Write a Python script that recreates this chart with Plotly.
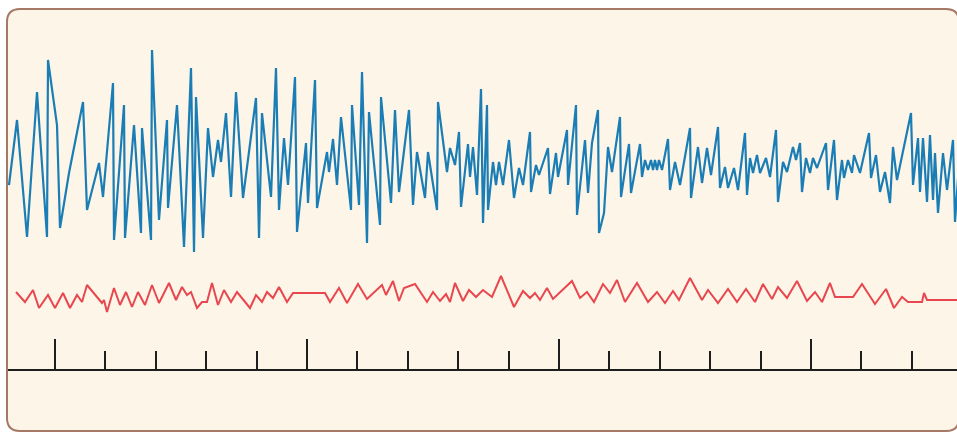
import plotly.graph_objects as go

# ---------------- data ----------------
blue_t = [9, 17, 27, 37, 47, 48, 57, 60, 69, 83, 87, 99, 103, 113, 114, 124, 125, 134, 141, 142,
          151, 152, 159, 167, 168, 177, 184, 191, 194, 196, 203, 208, 213, 218, 221, 226, 231, 236, 243, 256,
          259, 262, 271, 276, 279, 284, 288, 295, 297, 306, 308, 315, 317, 327, 329, 333, 337, 341, 351, 352,
          359, 362, 367, 369, 380, 381, 391, 395, 399, 409, 413, 417, 425, 428, 437, 438, 447, 450, 455, 459,
          461, 468, 470, 473, 477, 481, 483, 487, 488, 493, 496, 499, 503, 509, 514, 519, 523, 530, 531, 536,
          539, 548, 550, 556, 558, 567, 568, 576, 577, 585, 588, 592, 598, 599, 604, 608, 612, 620, 621, 629,
          631, 640, 642, 645, 648, 651, 653, 655, 657, 659, 662, 668, 670, 675, 680, 690, 691, 698, 702, 707,
          711, 718, 720, 725, 728, 734, 738, 745, 747, 750, 753, 757, 760, 766, 770, 776, 778, 783, 787, 793,
          796, 800, 802, 806, 810, 813, 817, 826, 828, 834, 837, 842, 844, 848, 852, 854, 860, 869, 871, 876,
          880, 885, 890, 893, 897, 911, 913, 918, 920, 923, 927, 930, 933, 935, 938, 943, 947, 953, 955, 960]
blue_amp = [-25, 40, -77, 68, -77, 100, 35, -68, -13, 58, -50, -3, -37, 77, -80, 55, -78, 35, -73, 32,
            -80, 110, -60, 40, -48, 55, -87, 92, -92, 63, -78, 32, -17, 20, -2, 47, -37, 68, -38, 62,
            -78, 47, -37, 92, -50, 22, -25, 83, -72, 17, -43, 80, -48, 8, -12, 21, -25, 43, -50, 55,
            -45, 88, -83, 48, -65, 63, -43, 50, -32, 50, -45, 8, -38, 8, -50, 58, -12, 12, -5, 28,
            -47, 16, -17, 13, -35, 71, -63, 55, -50, -2, -25, -2, -25, 20, -38, -8, -25, 28, -32, -5,
            -15, 12, -34, 7, -17, 30, -25, 55, -55, 20, -33, 17, 50, -73, -53, 13, -12, 43, -37, 16,
            -33, 16, -17, 0, -10, 0, -10, 0, -10, 0, -10, 21, -30, -2, -25, 32, -38, 13, -23, 12,
            -15, 33, -28, -7, -28, -8, -30, 27, -35, 2, -13, 5, -13, 2, -17, 30, -42, -2, -12, 13,
            0, 17, -32, 2, -13, 2, -8, 17, -30, 20, -40, 0, -18, 0, -13, 5, -13, 27, -18, 5,
            -32, -12, -43, 13, -20, 47, -25, 22, -32, 22, -42, 25, -40, 7, -53, 7, -30, 20, -62, 10]

red_t = [16, 25, 33, 39, 48, 55, 63, 70, 77, 82, 87, 102, 104, 107, 114, 120, 126, 132, 138, 145,
         152, 159, 169, 176, 182, 187, 191, 197, 202, 207, 212, 218, 224, 231, 237, 250, 256, 262, 267, 273,
         279, 287, 293, 325, 330, 339, 347, 358, 367, 382, 386, 393, 399, 404, 415, 427, 433, 440, 446, 450,
         455, 463, 469, 476, 483, 492, 501, 514, 523, 530, 535, 540, 547, 553, 572, 580, 587, 594, 603, 610,
         617, 625, 637, 648, 657, 665, 673, 679, 690, 702, 708, 718, 728, 737, 746, 755, 763, 772, 778, 787,
         797, 807, 815, 822, 830, 835, 853, 862, 875, 886, 894, 902, 908, 922, 924, 927, 957]
red_amp = [3, -7, 5, -13, 0, -13, 2, -13, 0, -7, 10, -8, -5, -17, 7, -10, 3, -12, 3, -10,
           10, -8, 12, -5, 8, 0, 3, -13, -7, -7, 12, -10, 5, -7, 3, -13, 0, -7, 3, -3,
           8, -7, 2, 2, -7, 7, -8, 11, -4, 10, 0, 14, -6, 7, 11, -7, 3, -6, 1, -7,
           12, -6, 5, -2, 5, -2, 19, -12, 4, -3, 2, -5, 7, -4, 14, -3, 3, -7, 11, 2,
           15, -7, 12, -7, 3, -8, 4, -5, 17, -5, 5, -8, 6, -7, 6, -7, 11, -4, 8, -3,
           14, -6, 3, -7, 12, -2, -2, 11, -9, 6, -13, -2, -7, -7, 2, -5, -5]

tick_start = 55
minor_step = 50.4
major_every = 5

# ---------------- layout helpers (pixel geometry of the frame) ----------------
W, H = 957, 433
ML, MR, MT, MB = 8, 0, 0, 63
PW, PH = W - ML - MR, H - MT - MB


def px(x):
    return (x - ML) / PW


def py(y):
    return (H - MB - y) / PH


def frame_path(x0, y0, x1, y1, r):
    rx, ry = r / PW, r / PH
    L, R, T, B = px(x0), px(x1), py(y0), py(y1)
    return (f"M {L+rx},{T} L {R-rx},{T} Q {R},{T} {R},{T-ry} "
            f"L {R},{B+ry} Q {R},{B} {R-rx},{B} L {L+rx},{B} "
            f"Q {L},{B} {L},{B+ry} L {L},{T-ry} Q {L},{T} {L+rx},{T} Z")


fig = go.Figure()
fig.add_trace(go.Scatter(x=blue_t, y=blue_amp, mode="lines",
                         line=dict(color="#1a7db5", width=2.2), yaxis="y", hoverinfo="skip"))
fig.add_trace(go.Scatter(x=red_t, y=red_amp, mode="lines",
                         line=dict(color="#e8474f", width=2), yaxis="y2", hoverinfo="skip"))

fig.update_layout(
    width=W, height=H,
    margin=dict(l=ML, r=MR, t=MT, b=MB, pad=0),
    paper_bgcolor="white",
    plot_bgcolor="rgba(0,0,0,0)",
    showlegend=False,
    xaxis=dict(range=[ML, W], anchor="free", position=0,
               showgrid=False, zeroline=False,
               showline=True, linecolor="#1e1e1e", linewidth=2,
               ticks="inside", ticklen=30, tickwidth=2, tickcolor="#1e1e1e",
               tickmode="linear", tick0=tick_start, dtick=minor_step * major_every,
               showticklabels=False,
               minor=dict(ticks="inside", ticklen=18, tickwidth=2, tickcolor="#1e1e1e",
                          tickmode="linear", tick0=tick_start, dtick=minor_step, showgrid=False)),
    yaxis=dict(domain=[py(260), py(40)], range=[-100, 120], visible=False, fixedrange=True),
    yaxis2=dict(domain=[py(325), py(265)], range=[-30, 30], visible=False, fixedrange=True),
    shapes=[dict(type="path", xref="paper", yref="paper", layer="below",
                 path=frame_path(7, 9, 959, 431, 13),
                 fillcolor="#fdf5e7", line=dict(color="#a67866", width=2))],
)

fig.write_html("out.html", config={"displayModeBar": False},
               post_script="document.body.style.margin='0';document.body.style.overflow='hidden';")
